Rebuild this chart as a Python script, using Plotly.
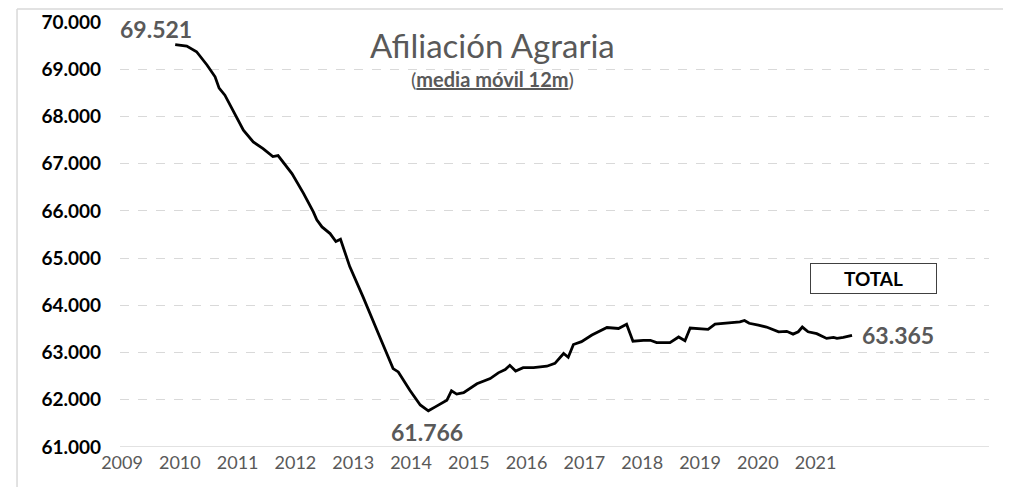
import plotly.graph_objects as go

# Data (decimal year, affiliates 12m moving average)
years = [2009.92, 2010.12, 2010.29, 2010.47, 2010.61, 2010.68, 2010.78, 2010.93,
         2011.10, 2011.27, 2011.44, 2011.61, 2011.70, 2011.94, 2012.14, 2012.31,
         2012.37, 2012.46, 2012.60, 2012.70, 2012.78, 2012.94, 2013.17, 2013.46,
         2013.69, 2013.78, 2013.98, 2014.16, 2014.30, 2014.42, 2014.62, 2014.70,
         2014.79, 2014.91, 2015.14, 2015.37, 2015.51, 2015.63, 2015.71, 2015.81,
         2015.94, 2016.12, 2016.35, 2016.49, 2016.64, 2016.72, 2016.81, 2016.95,
         2017.13, 2017.39, 2017.59, 2017.73, 2017.84, 2018.02, 2018.14, 2018.25,
         2018.48, 2018.63, 2018.74, 2018.83, 2019.03, 2019.14, 2019.26, 2019.40,
         2019.52, 2019.69, 2019.77, 2019.85, 2020.01, 2020.15, 2020.36, 2020.50,
         2020.61, 2020.70, 2020.77, 2020.87, 2021.02, 2021.19, 2021.31, 2021.37,
         2021.48, 2021.63]
values = [69521, 69490, 69370, 69090, 68840, 68600, 68450, 68100,
          67710, 67460, 67320, 67150, 67170, 66790, 66370, 65980,
          65810, 65660, 65520, 65350, 65400, 64820, 64180, 63330,
          62660, 62590, 62200, 61890, 61766, 61850, 61990, 62190,
          62120, 62150, 62340, 62450, 62570, 62640, 62730, 62610,
          62680, 62680, 62710, 62770, 62980, 62900, 63170, 63230,
          63370, 63530, 63510, 63600, 63240, 63260, 63260, 63210,
          63210, 63330, 63250, 63520, 63510, 63490, 63600, 63620,
          63640, 63650, 63680, 63620, 63580, 63540, 63440, 63450,
          63390, 63440, 63540, 63440, 63400, 63300, 63320, 63300,
          63320, 63365]

x_ticks = [2009, 2010, 2011, 2012, 2013, 2014, 2015, 2016, 2017, 2018, 2019, 2020, 2021]
x_labels = [str(y) for y in x_ticks]
y_ticks = [61000, 62000, 63000, 64000, 65000, 66000, 67000, 68000, 69000, 70000]
y_labels = ["61.000", "62.000", "63.000", "64.000", "65.000", "66.000",
            "67.000", "68.000", "69.000", "70.000"]

FONT = "Lato"
GRAY = "#595959"

fig = go.Figure()
fig.add_trace(go.Scatter(x=years, y=values, mode="lines",
                         line=dict(color="black", width=2.8),
                         hoverinfo="skip", showlegend=False))

fig.update_layout(
    width=1003, height=479,
    margin=dict(l=112, r=22, t=14, b=40),
    plot_bgcolor="white", paper_bgcolor="white",
    font=dict(family=FONT),
    xaxis=dict(range=[2008.965, 2024.0], tickvals=x_ticks, ticktext=x_labels,
               showgrid=False, zeroline=False, showline=False, automargin=False,
               ticklabelstandoff=3,
               tickfont=dict(size=18, color=GRAY, family=FONT), ticks=""),
    yaxis=dict(range=[61000, 70000], tickvals=y_ticks, ticktext=y_labels,
               showgrid=True, gridcolor="#d9d9d9", griddash="dash", gridwidth=1,
               zeroline=False, showline=False, ticks="", ticklabelstandoff=18,
               automargin=False,
               tickfont=dict(size=19, color="black", family=FONT, weight="bold")),
)

# solid bottom axis line and chart frame
fig.add_shape(type="line", xref="paper", yref="y", x0=0, x1=1, y0=61000, y1=61000,
              line=dict(color="#d9d9d9", width=1.5), layer="below")
fig.add_shape(type="line", xref="paper", yref="paper", x0=-0.1185, x1=1.05,
              y0=1.0306, y1=1.0306, line=dict(color="#d9d9d9", width=1.5))
fig.add_shape(type="line", xref="paper", yref="paper", x0=-0.1185, x1=-0.1185,
              y0=1.0306, y1=-0.12, line=dict(color="#d9d9d9", width=1.5))

# TOTAL box
fig.add_annotation(x=2022.01, y=64576, xref="x", yref="y", text="<b>TOTAL</b>",
                   showarrow=False, font=dict(size=19, color="black", family=FONT),
                   bordercolor="#404040", borderwidth=1, width=123, height=27,
                   bgcolor="white")

# Title and subtitle
fig.add_annotation(x=2015.41, y=69513, xref="x", yref="y", text="Afiliación Agraria",
                   showarrow=False, font=dict(size=33, color=GRAY, family=FONT))
fig.add_annotation(x=2015.41, y=68803, xref="x", yref="y",
                   text="(<b><u>media móvil 12m</u></b>)",
                   showarrow=False, font=dict(size=20, color=GRAY, family=FONT))

# Value labels
fig.add_annotation(x=2009.59, y=69862, xref="x", yref="y", text="<b>69.521</b>",
                   showarrow=False, font=dict(size=23, color=GRAY, family=FONT))
fig.add_annotation(x=2014.28, y=61314, xref="x", yref="y", text="<b>61.766</b>",
                   showarrow=False, font=dict(size=23, color=GRAY, family=FONT))
fig.add_annotation(x=2022.43, y=63369, xref="x", yref="y", text="<b>63.365</b>",
                   showarrow=False, font=dict(size=23, color=GRAY, family=FONT))

fig.write_html("out.html")
